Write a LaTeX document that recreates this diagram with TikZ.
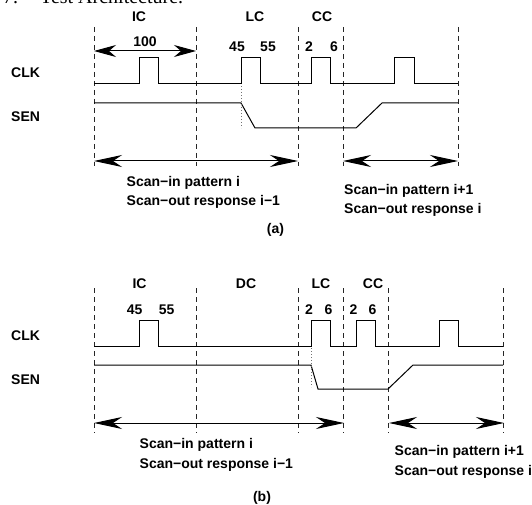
\documentclass[tikz,border=0pt]{standalone}
\usepackage{fontspec}
\setmainfont{Liberation Sans}
\newfontfamily\ttlfont{Liberation Serif}
\usetikzlibrary{arrows.meta}
\begin{document}
\begin{tikzpicture}[x=1pt,y=-1pt,
 lbl/.style={font=\bfseries\fontsize{14}{16}\selectfont, inner sep=0pt, anchor=base},
 txt/.style={lbl, anchor=base west},
 ttl/.style={font=\ttlfont\fontsize{20}{22}\selectfont, inner sep=0pt, anchor=base west},
 dashv/.style={draw=black!85, line width=1pt, dash pattern=on 5pt off 4pt},
 sig/.style={draw=black, line width=1pt, line join=miter},
 dotv/.style={draw=black!55, line width=0.8pt, dash pattern=on 1pt off 2pt},
 bigspan/.style={line width=1pt, {Stealth[length=28pt,width=12pt,inset=9pt]}-{Stealth[length=28pt,width=12pt,inset=9pt]}},
 smallspan/.style={line width=1pt, {Stealth[length=22pt,width=12pt,inset=7pt]}-{Stealth[length=22pt,width=12pt,inset=7pt]}}]
\useasboundingbox (0,0) rectangle (532,505);

% cut-off heading
\node[ttl] (h1) at (3,4) {7.};
\node[ttl] (h2) at (40,4) {Test Architecture.};

% ---------- (a) ----------
\foreach \n/\x in {a1/94,a2/196,a3/298,a4/343,a5/458}{
  \coordinate (\n t) at (\x,27);
  \coordinate (\n b) at (\x,166);
  \draw[dashv] (\n t) -- (\n b);
}
\node[lbl] (aIC) at (139,21.5) {IC};
\node[lbl] (aLC) at (255,21.5) {LC};
\node[lbl] (aCC) at (322,21.5) {CC};
\node[lbl] (a100) at (145,46.5) {100};
\node[lbl] (a45) at (237,52) {45};
\node[lbl] (a55) at (268,52) {55};
\node[lbl] (a2) at (309,52) {2};
\node[lbl] (a6) at (334,52) {6};
\node[txt] (aCLK) at (11,78) {CLK};
\node[txt] (aSEN) at (11,122) {SEN};

\draw[sig] (94,84) -- (139,84) -- (139,58) -- (158,58) -- (158,84) -- (241,84) -- (241,58) -- (260,58) -- (260,84)
  -- (311,84) -- (311,58) -- (330,58) -- (330,84) -- (394,84) -- (394,58) -- (414,58) -- (414,84) -- (458,84);
\draw[sig] (94,103) -- (241,103) -- (255,128) -- (356,128) -- (382,103) -- (458,103);
\coordinate (adt) at (241,86);
\coordinate (adb) at (241,128);
\draw[dotv] (adt) -- (adb);

\coordinate (ar1) at (94,51);
\coordinate (ar2) at (196,51);
\draw[smallspan] (ar1) -- (ar2);
\coordinate (ar3) at (94,161);
\coordinate (ar4) at (298,161);
\draw[bigspan] (ar3) -- (ar4);
\coordinate (ar5) at (343,161);
\coordinate (ar6) at (458,161);
\draw[bigspan] (ar5) -- (ar6);

\node[txt] (aL1) at (126.5,186) {Scan−in pattern i};
\node[txt] (aL2) at (126.5,205.5) {Scan−out response i−1};
\node[txt] (aR1) at (344,194) {Scan−in pattern i+1};
\node[txt] (aR2) at (344,213) {Scan−out response i};
\node[lbl] (acap) at (275.5,233) {(a)};

% ---------- (b) ----------
\foreach \n/\x in {b1/94,b2/196,b3/298,b4/343,b5/388,b6/503}{
  \coordinate (\n t) at (\x,288);
  \coordinate (\n b) at (\x,433);
  \draw[dashv] (\n t) -- (\n b);
}
\node[lbl] (bIC) at (139.5,288) {IC};
\node[lbl] (bDC) at (246,288) {DC};
\node[lbl] (bLC) at (321,288) {LC};
\node[lbl] (bCC) at (373,288) {CC};
\node[lbl] (b45) at (134.7,314) {45};
\node[lbl] (b55) at (166.7,314) {55};
\node[lbl] (b2a) at (309,314) {2};
\node[lbl] (b6a) at (328.5,314) {6};
\node[lbl] (b2b) at (353.5,314) {2};
\node[lbl] (b6b) at (372.5,314) {6};
\node[txt] (bCLK) at (11,340) {CLK};
\node[txt] (bSEN) at (11,384) {SEN};

\draw[sig] (94,346) -- (139,346) -- (139,320) -- (158,320) -- (158,346) -- (311,346) -- (311,320) -- (330,320) -- (330,346)
  -- (356,346) -- (356,320) -- (375,320) -- (375,346) -- (439,346) -- (439,320) -- (458,320) -- (458,346) -- (503,346);
\draw[sig] (94,365) -- (311,365) -- (318,389) -- (388,389) -- (413,365) -- (503,365);
\coordinate (bdt) at (311,348);
\coordinate (bdb) at (311,387);
\draw[dotv] (bdt) -- (bdb);

\coordinate (br1) at (94,423);
\coordinate (br2) at (344,423);
\draw[bigspan] (br1) -- (br2);
\coordinate (br3) at (389,423);
\coordinate (br4) at (504,423);
\draw[bigspan] (br3) -- (br4);

\node[txt] (bL1) at (139.5,448.5) {Scan−in pattern i};
\node[txt] (bL2) at (139.5,468) {Scan−out response i−1};
\node[txt] (bR1) at (394.5,455.5) {Scan−in pattern i+1};
\node[txt] (bR2) at (394.5,475.5) {Scan−out response i};
\node[lbl] (bcap) at (262,501.5) {(b)};
\end{tikzpicture}
\end{document}
